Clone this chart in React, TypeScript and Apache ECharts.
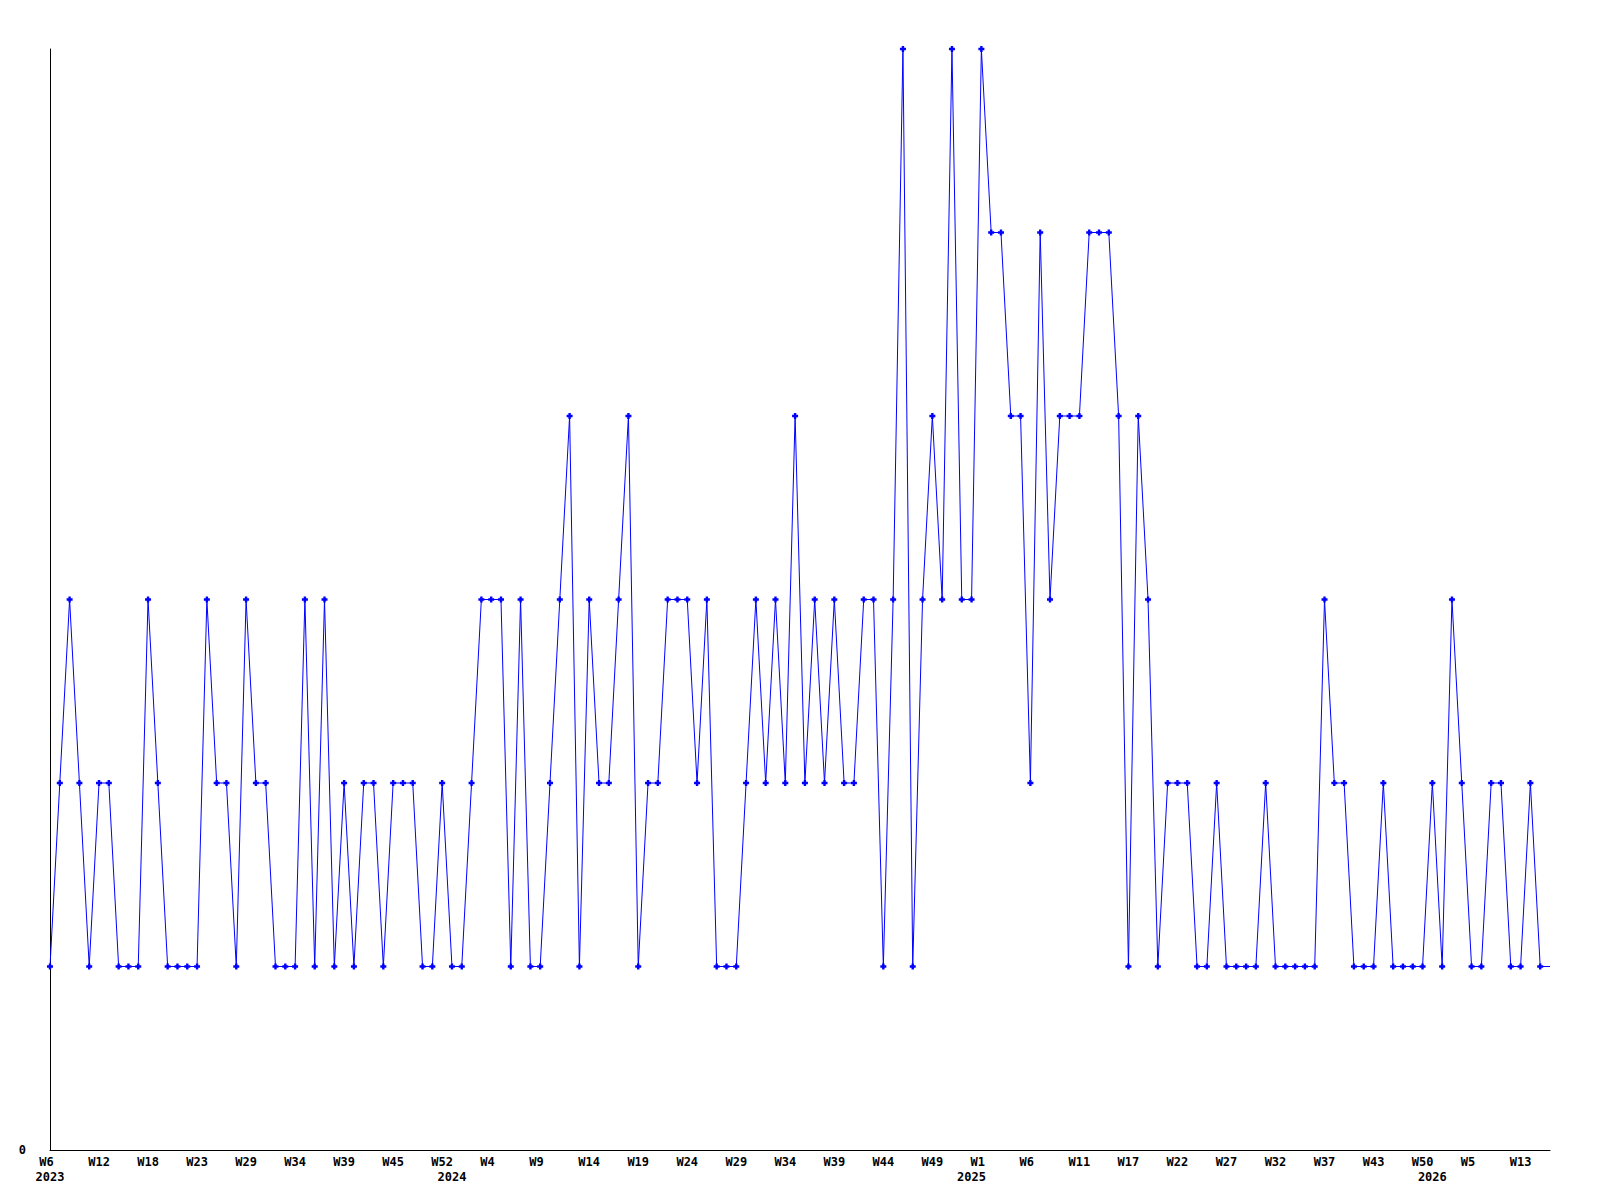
import React, { useEffect, useRef } from "react";
import * as echarts from "echarts";

const values: number[] = [
  1, 2, 3, 2, 1, 2, 2, 1, 1, 1, 3, 2, 1, 1, 1, 1, 3, 2, 2, 1, 3, 2, 2, 1, 1, 1, 3,
  1, 3, 1, 2, 1, 2, 2, 1, 2, 2, 2, 1, 1, 2, 1, 1, 2, 3, 3, 3, 1, 3, 1, 1, 2,
  3, 4, 1, 3, 2, 2, 3, 4, 1, 2, 2, 3, 3, 3, 2, 3, 1, 1, 1, 2, 3, 2, 3, 2, 4, 2, 3,
  2, 3, 2, 2, 3, 3, 1, 3, 6, 1, 3, 4, 3, 6, 3, 3, 6, 5, 5, 4, 4, 2, 5, 3, 4, 4, 4,
  5, 5, 5, 4, 1, 4, 3, 1, 2, 2, 2, 1, 1, 2, 1, 1, 1, 1, 2, 1, 1, 1, 1, 1, 3,
  2, 2, 1, 1, 1, 2, 1, 1, 1, 1, 2, 1, 3, 2, 1, 1, 2, 2, 1, 1, 2, 1, 1,
];

// one week label every 5 points
const weekLabels: string[] = [
  "W6", "W12", "W18", "W23", "W29", "W34", "W39", "W45", "W52",
  "W4", "W9", "W14", "W19", "W24", "W29", "W34", "W39", "W44", "W49",
  "W1", "W6", "W11", "W17", "W22", "W27", "W32", "W37", "W43", "W50",
  "W5", "W13",
];
const weekStep = 5;

const yearLabels: string[] = ["2023", "2024", "2025", "2026"];
const yearIndices: number[] = [0, 41, 94, 141];

const yTicks: string[] = ["0"];

export default function App() {
  const ref = useRef<HTMLDivElement>(null);

  useEffect(() => {
    if (!ref.current) return;
    const chart = echarts.init(ref.current, undefined, { renderer: "svg" });
    const cats = values.map((_, i) => String(i));
    const font = {
      fontFamily: "DejaVu Sans Mono",
      fontWeight: "bold" as const,
      fontSize: 12,
      color: "#000",
    };
    chart.setOption({
      animation: false,
      backgroundColor: "#fff",
      grid: { left: 50, right: 50, top: 49, bottom: 50 },
      xAxis: [
        {
          type: "category",
          data: cats,
          boundaryGap: false,
          position: "bottom",
          axisLine: { show: true, lineStyle: { color: "#000", width: 1 } },
          axisTick: { show: false },
          splitLine: { show: false },
          axisLabel: {
            ...font,
            margin: 6,
            lineHeight: 12,
            interval: (i: number) => i % weekStep === 0,
            formatter: (_v: string, i: number) => {
              const l = weekLabels[i / weekStep] || "";
              return l.padEnd(3, " ");
            },
          },
        },
        {
          type: "category",
          data: cats,
          boundaryGap: false,
          position: "bottom",
          axisLine: { show: false },
          axisTick: { show: false },
          splitLine: { show: false },
          axisLabel: {
            ...font,
            margin: 21,
            lineHeight: 12,
            interval: (i: number) => yearIndices.includes(i),
            formatter: (_v: string, i: number) => {
              const k = yearIndices.indexOf(i);
              return k >= 0 ? yearLabels[k] : "";
            },
          },
        },
      ],
      yAxis: {
        type: "value",
        min: 0,
        max: 6,
        interval: 6,
        axisLine: { show: true, lineStyle: { color: "#000", width: 1 } },
        axisTick: { show: false },
        splitLine: { show: false },
        axisLabel: {
          ...font,
          margin: 24,
          formatter: (v: number) => (v === 0 ? yTicks[0] : ""),
        },
      },
      series: [
        {
          type: "line",
          xAxisIndex: 0,
          data: values.map((v, i) =>
            i === values.length - 1 ? { value: v, symbol: "none" } : v
          ),
          symbol: "path://M1.5,0H3.5V1.5H5V3.5H3.5V5H1.5V3.5H0V1.5H1.5Z",
          symbolSize: 6,
          showAllSymbol: true,
          lineStyle: { color: "#0000ff", width: 1 },
          itemStyle: { color: "#0000ff" },
        },
      ],
    });
    return () => chart.dispose();
  }, []);

  return (
    <div
      ref={ref}
      style={{ position: "fixed", left: 0, top: 0, width: 1600, height: 1200, background: "#fff" }}
    />
  );
}
